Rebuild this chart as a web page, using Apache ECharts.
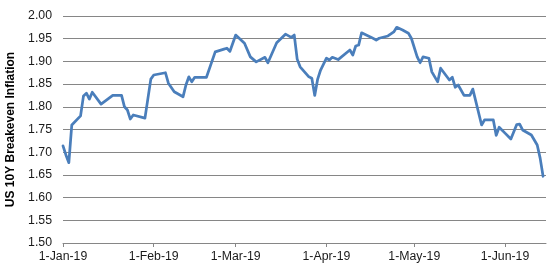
<!DOCTYPE html>
<html>
<head>
<meta charset="utf-8">
<script src="https://cdn.jsdelivr.net/npm/echarts@6/dist/echarts.min.js"></script>
<style>
html,body{margin:0;padding:0;background:#fff;}
#chart{width:559px;height:277px;}
</style>
</head>
<body>
<div id="chart"></div>
<script>
// Dates (observed vertices of the line)
var dates = [
'2019-01-01','2019-01-02','2019-01-03','2019-01-04','2019-01-07','2019-01-08','2019-01-09','2019-01-10','2019-01-11','2019-01-14',
'2019-01-18','2019-01-21','2019-01-22','2019-01-23','2019-01-24','2019-01-25','2019-01-29','2019-01-31','2019-02-01','2019-02-05',
'2019-02-06','2019-02-08','2019-02-11','2019-02-12','2019-02-13','2019-02-14','2019-02-15','2019-02-19','2019-02-22','2019-02-25',
'2019-02-26','2019-02-27','2019-03-01','2019-03-04','2019-03-06','2019-03-08','2019-03-11','2019-03-12','2019-03-15','2019-03-18',
'2019-03-20','2019-03-21','2019-03-22','2019-03-23','2019-03-26','2019-03-27','2019-03-28','2019-03-29','2019-03-30','2019-04-01',
'2019-04-02','2019-04-03','2019-04-05','2019-04-09','2019-04-10','2019-04-11','2019-04-12','2019-04-13','2019-04-16','2019-04-18',
'2019-04-19','2019-04-22','2019-04-24','2019-04-25','2019-04-27','2019-04-29','2019-04-30','2019-05-02','2019-05-03','2019-05-04',
'2019-05-06','2019-05-07','2019-05-09','2019-05-10','2019-05-13','2019-05-14','2019-05-15','2019-05-16','2019-05-18','2019-05-20',
'2019-05-21','2019-05-24','2019-05-25','2019-05-28','2019-05-29','2019-05-30','2019-06-01','2019-06-03','2019-06-05','2019-06-06',
'2019-06-07','2019-06-10','2019-06-12','2019-06-13','2019-06-14'
];
// US 10Y breakeven inflation values
var breakeven = [
1.714,1.694,1.677,1.760,1.780,1.824,1.830,1.817,1.832,1.806,
1.825,1.825,1.800,1.793,1.773,1.782,1.775,1.861,1.870,1.875,
1.852,1.833,1.822,1.848,1.866,1.855,1.865,1.865,1.921,1.927,
1.929,1.922,1.958,1.940,1.910,1.899,1.909,1.897,1.941,1.960,
1.953,1.958,1.905,1.888,1.866,1.863,1.825,1.861,1.881,1.907,
1.903,1.909,1.904,1.925,1.914,1.934,1.936,1.963,1.954,1.947,
1.951,1.956,1.965,1.975,1.969,1.962,1.951,1.910,1.897,1.910,
1.907,1.877,1.855,1.885,1.859,1.865,1.843,1.848,1.825,1.825,
1.839,1.760,1.771,1.771,1.737,1.755,1.742,1.729,1.761,1.762,
1.749,1.738,1.716,1.687,1.647
];
// x-axis tick dates
var tickDates = ['2019-01-01','2019-02-01','2019-03-01','2019-04-01','2019-05-01','2019-06-01'];
var axisStart = '2019-01-01';
var axisEnd = '2019-06-15';
var monthNames = ['Jan','Feb','Mar','Apr','May','Jun','Jul','Aug','Sep','Oct','Nov','Dec'];

function toTime(s){
  var p = s.split('-');
  return Date.UTC(+p[0], +p[1]-1, +p[2]);
}
var seriesData = dates.map(function(d,i){ return [toTime(d), breakeven[i]]; });
var tickTimes = tickDates.map(toTime);

var chart = echarts.init(document.getElementById('chart'), null, {renderer:'canvas'});
var font = 'Liberation Sans, Arial, sans-serif';
chart.setOption({
  animation:false,
  backgroundColor:'#ffffff',
  grid:{left:63, right:13, top:16, bottom:34, outerBoundsMode:'none'},
  xAxis:{
    type:'value',
    min:toTime(axisStart),
    max:toTime(axisEnd),
    axisLine:{show:true, lineStyle:{color:'#868686', width:1}},
    axisTick:{show:true, length:4, customValues:tickTimes, lineStyle:{color:'#868686'}},
    axisLabel:{
      customValues:tickTimes,
      color:'#1a1a1a', fontSize:12.3, fontFamily:font, margin:8,
      formatter:function(v){
        var d = new Date(v);
        return d.getUTCDate()+'-'+monthNames[d.getUTCMonth()]+'-'+String(d.getUTCFullYear()).slice(2);
      }
    },
    splitLine:{show:false}
  },
  yAxis:{
    type:'value',
    min:1.5, max:2.0, interval:0.05,
    name:'US 10Y Breakeven Inflation',
    nameLocation:'middle',
    nameGap:39,
    nameTextStyle:{fontWeight:'bold', fontSize:12, color:'#000', fontFamily:font},
    axisLine:{show:false},
    axisTick:{show:false},
    axisLabel:{color:'#1a1a1a', fontSize:12.3, fontFamily:font, margin:11,
      formatter:function(v){ return v.toFixed(2); }},
    splitLine:{show:true, lineStyle:{color:'#868686', width:1}}
  },
  series:[{
    type:'line',
    data:seriesData,
    showSymbol:false,
    symbol:'none',
    smooth:false,
    lineStyle:{color:'#4a7ebb', width:2.75, join:'round', cap:'round'}
  }]
});
</script>
</body>
</html>
